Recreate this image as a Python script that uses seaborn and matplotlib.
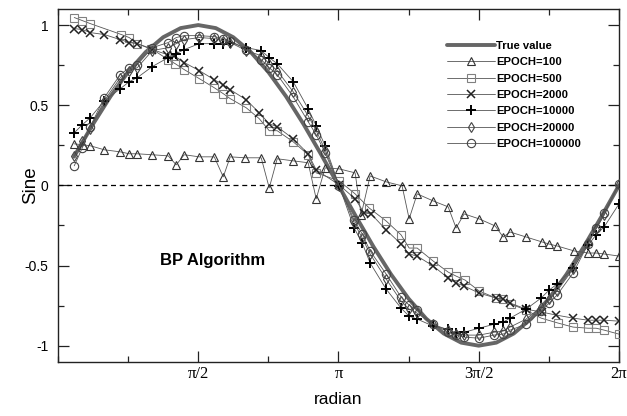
import numpy as np
import pandas as pd
import matplotlib
matplotlib.use("Agg")
import matplotlib.pyplot as plt
import seaborn as sns
from matplotlib.ticker import MultipleLocator, FixedLocator

# ---------------- data ----------------
true_x = [0.18, 0.196, 0.393, 0.589, 0.785, 0.982, 1.178, 1.374, 1.571, 1.767, 1.963,
          2.160, 2.356, 2.553, 2.749, 2.945, 3.142, 3.338, 3.534, 3.731, 3.927,
          4.123, 4.320, 4.516, 4.712, 4.909, 5.105, 5.301, 5.498, 5.694, 5.890,
          6.087, 6.283]
true_y = [0.179, 0.195, 0.383, 0.556, 0.707, 0.831, 0.924, 0.981, 1.000, 0.981, 0.924,
          0.831, 0.707, 0.556, 0.383, 0.195, 0.000, -0.195, -0.383, -0.556, -0.707,
          -0.831, -0.924, -0.981, -1.000, -0.981, -0.924, -0.831, -0.707, -0.556, -0.383,
          -0.195, 0.000]

e100_x = [0.182, 0.283, 0.362, 0.518, 0.698, 0.798, 0.888, 1.056, 1.235, 1.324,
          1.414, 1.582, 1.750, 1.851, 1.929, 2.097, 2.276, 2.366, 2.455, 2.634,
          2.802, 2.892, 2.992, 3.149, 3.328, 3.395, 3.496, 3.675, 3.854, 3.933,
          4.023, 4.202, 4.370, 4.459, 4.549, 4.717, 4.896, 4.986, 5.064, 5.243,
          5.422, 5.501, 5.590, 5.781, 5.937, 6.027, 6.117, 6.283]
e100_y = [0.259, 0.253, 0.247, 0.222, 0.209, 0.197, 0.197, 0.191, 0.184, 0.128,
          0.191, 0.178, 0.178, 0.053, 0.178, 0.172, 0.172, -0.016, 0.166, 0.153,
          0.141, -0.084, 0.109, 0.103, 0.078, -0.184, 0.059, 0.022, -0.003, -0.209,
          -0.053, -0.097, -0.134, -0.266, -0.178, -0.209, -0.253, -0.322, -0.291, -0.322,
          -0.353, -0.366, -0.378, -0.409, -0.422, -0.422, -0.428, -0.441]

e500_x = [0.182, 0.272, 0.362, 0.709, 0.798, 0.888, 1.045, 1.235, 1.313, 1.414,
          1.582, 1.750, 1.851, 1.929, 2.108, 2.254, 2.366, 2.455, 2.634, 2.802,
          2.892, 3.149, 3.328, 3.485, 3.675, 3.843, 3.933, 4.023, 4.202, 4.370,
          4.459, 4.560, 4.717, 4.907, 4.986, 5.075, 5.243, 5.411, 5.601, 5.769,
          5.937, 6.027, 6.117, 6.283]
e500_y = [1.047, 1.028, 1.009, 0.941, 0.922, 0.884, 0.853, 0.784, 0.759, 0.722,
          0.666, 0.609, 0.572, 0.541, 0.484, 0.416, 0.341, 0.341, 0.272, 0.191,
          0.078, 0.028, -0.053, -0.141, -0.222, -0.309, -0.391, -0.391, -0.472, -0.541,
          -0.566, -0.591, -0.659, -0.703, -0.709, -0.741, -0.778, -0.828, -0.859, -0.884,
          -0.891, -0.891, -0.903, -0.928]

e2000_x = [0.182, 0.272, 0.362, 0.518, 0.698, 0.798, 0.888, 1.056, 1.224, 1.302,
           1.414, 1.582, 1.750, 1.851, 1.929, 2.108, 2.254, 2.366, 2.455, 2.634,
           2.802, 2.892, 3.149, 3.328, 3.429, 3.507, 3.675, 3.843, 3.933, 4.023,
           4.202, 4.370, 4.459, 4.549, 4.717, 4.907, 4.986, 5.064, 5.243, 5.422,
           5.580, 5.769, 5.937, 6.027, 6.117, 6.283]
e2000_y = [0.978, 0.972, 0.953, 0.941, 0.909, 0.891, 0.884, 0.847, 0.816, 0.809,
           0.766, 0.716, 0.659, 0.628, 0.597, 0.534, 0.453, 0.384, 0.366, 0.291,
           0.197, 0.097, 0.003, -0.084, -0.172, -0.178, -0.278, -0.366, -0.428, -0.441,
           -0.503, -0.578, -0.609, -0.628, -0.672, -0.703, -0.709, -0.734, -0.772, -0.791,
           -0.809, -0.828, -0.841, -0.841, -0.841, -0.847]

grid_x = [0.182, 0.272, 0.362, 0.518, 0.698, 0.798, 0.888, 1.056, 1.235, 1.324,
          1.414, 1.582, 1.750, 1.851, 1.929, 2.108, 2.276, 2.366, 2.455, 2.634,
          2.802, 2.892, 2.992, 3.149, 3.317, 3.407, 3.496, 3.675, 3.843, 3.933,
          4.023, 4.202, 4.370, 4.459, 4.549, 4.717, 4.885, 4.986, 5.064, 5.243,
          5.411, 5.501, 5.590, 5.769, 5.937, 6.027, 6.117, 6.283]
e10000_y = [0.328, 0.378, 0.422, 0.528, 0.603, 0.647, 0.672, 0.741, 0.797, 0.822,
            0.847, 0.884, 0.884, 0.884, 0.891, 0.859, 0.841, 0.797, 0.759, 0.647,
            0.478, 0.372, 0.247, -0.003, -0.266, -0.359, -0.484, -0.647, -0.766, -0.816,
            -0.834, -0.878, -0.897, -0.922, -0.916, -0.891, -0.866, -0.853, -0.828, -0.772,
            -0.703, -0.653, -0.616, -0.516, -0.372, -0.309, -0.259, -0.116]
e20000_y = [0.184, 0.278, 0.353, 0.528, 0.672, 0.716, 0.734, 0.841, 0.859, 0.884,
            0.909, 0.922, 0.916, 0.903, 0.891, 0.841, 0.809, 0.759, 0.716, 0.584,
            0.434, 0.341, 0.222, -0.003, -0.234, -0.328, -0.428, -0.584, -0.722, -0.772,
            -0.797, -0.866, -0.903, -0.928, -0.934, -0.934, -0.916, -0.909, -0.884, -0.834,
            -0.759, -0.709, -0.659, -0.522, -0.359, -0.272, -0.184, 0.009]
e100000_y = [0.122, 0.234, 0.366, 0.547, 0.691, 0.734, 0.753, 0.859, 0.891, 0.922,
             0.934, 0.934, 0.928, 0.916, 0.903, 0.847, 0.784, 0.734, 0.691, 0.553,
             0.397, 0.316, 0.203, -0.003, -0.216, -0.303, -0.409, -0.553, -0.697, -0.747,
             -0.778, -0.866, -0.916, -0.934, -0.947, -0.953, -0.934, -0.928, -0.903, -0.866,
             -0.784, -0.734, -0.684, -0.547, -0.366, -0.266, -0.172, 0.009]

x_tick_vals = [np.pi / 2, np.pi, 3 * np.pi / 2, 2 * np.pi]
x_tick_labels = ["π/2", "π", "3π/2", "2π"]
y_tick_vals = [-1, -0.5, 0, 0.5, 1]
y_tick_labels = ["-1", "-0.5", "0", "0.5", "1"]

# ---------------- plotting ----------------
sns.set_style("ticks")
plt.rcParams["font.family"] = ["Liberation Sans", "DejaVu Sans"]
plt.rcParams["text.color"] = "black"
plt.rcParams["axes.labelcolor"] = "black"
plt.rcParams["xtick.color"] = "black"
plt.rcParams["ytick.color"] = "black"

fig = plt.figure(figsize=(6.27, 4.16), dpi=100)
ax = fig.add_axes([0.0925, 0.1305, 0.8947, 0.8478])

ax.axhline(0, color="black", lw=0.9, ls=(0, (4, 3)), zorder=1, label="_nolegend_")

sns.lineplot(x=true_x, y=true_y, ax=ax, color="#666666", lw=2.8, estimator=None,
             sort=False, label="True value", zorder=2)

series = [
    ("EPOCH=100", e100_x, e100_y, "^", "#333333", 5.5),
    ("EPOCH=500", e500_x, e500_y, "s", "#808080", 5.5),
    ("EPOCH=2000", e2000_x, e2000_y, "x", "#222222", 6.0),
    ("EPOCH=10000", grid_x, e10000_y, "+", "#000000", 7.5),
    ("EPOCH=20000", grid_x, e20000_y, "d", "#444444", 5.5),
    ("EPOCH=100000", grid_x, e100000_y, "o", "#444444", 6.0),
]
for lab, xs, ys, mk, mc, ms in series:
    df = pd.DataFrame({"x": xs, "y": ys})
    sns.lineplot(data=df, x="x", y="y", ax=ax, estimator=None, sort=False,
                 color="#555555", lw=0.6, marker=mk, markersize=ms,
                 markerfacecolor="none", markeredgecolor=mc,
                 markeredgewidth=1.1 if mk == "x" else (1.4 if mk == "+" else 0.8),
                 label=lab, zorder=3)

ax.set_xlim(0, 2 * np.pi)
ax.set_ylim(-1.1, 1.1)

ax.xaxis.set_major_locator(FixedLocator(x_tick_vals))
ax.xaxis.set_minor_locator(MultipleLocator(np.pi / 4))
ax.set_xticks(x_tick_vals)
ax.set_xticklabels(x_tick_labels, fontfamily="Liberation Serif", fontsize=12)
ax.set_yticks(y_tick_vals)
ax.set_yticklabels(y_tick_labels, fontsize=10)
ax.yaxis.set_minor_locator(MultipleLocator(0.25))

ax.tick_params(which="both", direction="in", top=True, right=True, width=0.9,
               color="#222222")
ax.tick_params(which="major", length=8)
ax.tick_params(axis="x", which="major", pad=3)
ax.tick_params(axis="y", which="major", pad=7)
ax.tick_params(which="minor", length=4.5)
for sp in ax.spines.values():
    sp.set_linewidth(1.0)
    sp.set_color("#222222")

ax.set_xlabel("radian", fontsize=12.5, labelpad=7)
ax.set_ylabel("Sine", fontsize=13.5)
ax.yaxis.set_label_coords(-0.033, 0.5)

ax.text(1.14, -0.47, "BP Algorithm", fontsize=12, fontweight="bold",
        ha="left", va="center")

leg = ax.legend(loc="upper left", bbox_to_anchor=(0.684, 0.925), frameon=False,
                prop={"weight": "bold", "size": 8.1}, handlelength=4.2,
                handletextpad=0.15, labelspacing=0.56, borderpad=0)

fig.savefig("out.png", dpi=100)
